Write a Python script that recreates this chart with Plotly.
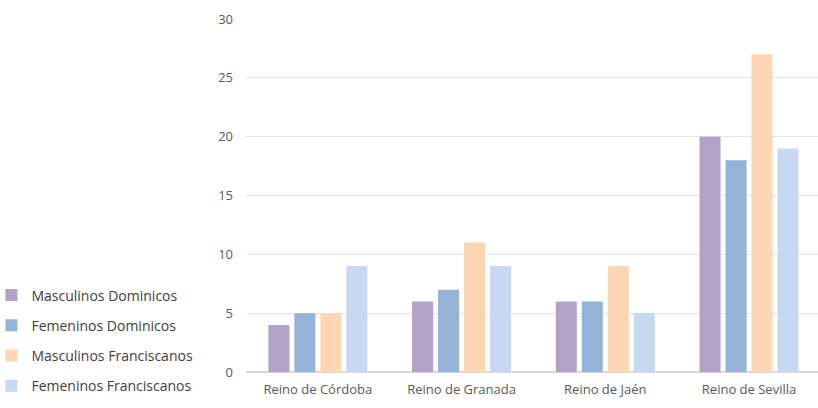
import plotly.graph_objects as go

categories = ["Reino de Córdoba", "Reino de Granada", "Reino de Jaén", "Reino de Sevilla"]
series_names = ["Masculinos Dominicos", "Femeninos Dominicos", "Masculinos Franciscanos", "Femeninos Franciscanos"]
masc_dom = [4, 6, 6, 20]
fem_dom = [5, 7, 6, 18]
masc_fran = [5, 11, 9, 27]
fem_fran = [9, 9, 5, 19]
colors = ["#b3a2c7", "#95b3d7", "#fcd5b5", "#c6d9f1"]

fig = go.Figure()
for i, (name, vals, c) in enumerate(zip(series_names, [masc_dom, fem_dom, masc_fran, fem_fran], colors)):
    fig.add_trace(go.Bar(x=categories, y=vals, name=name, legendgroup=f"g{i}",
                         marker=dict(color=c, line=dict(width=0))))

fig.update_layout(
    width=818, height=408,
    margin=dict(l=246, r=0, t=19, b=36, autoexpand=False),
    paper_bgcolor="white", plot_bgcolor="white",
    barmode="group", bargap=0.277, bargroupgap=0.19,
    font=dict(family="Open Sans", size=12, color="#595959"),
    legend=dict(xref="paper", yref="container", x=-0.445, y=0.315, xanchor="left", yanchor="top",
                font=dict(size=14, color="#404040"), tracegroupgap=9, itemwidth=30,
                bgcolor="rgba(0,0,0,0)"),
    xaxis=dict(showgrid=False, showline=False, ticks="", tickfont=dict(size=13), ticklabelstandoff=8,
               range=[-0.5, 3.48]),
    yaxis=dict(range=[0, 30], dtick=5, showgrid=True, gridcolor="#e3e3e3", gridwidth=1,
               zeroline=True, zerolinecolor="#d9d9d9", showline=False, ticklabelstandoff=12,
               tickfont=dict(size=13)),
)
fig.write_html("out.html")
